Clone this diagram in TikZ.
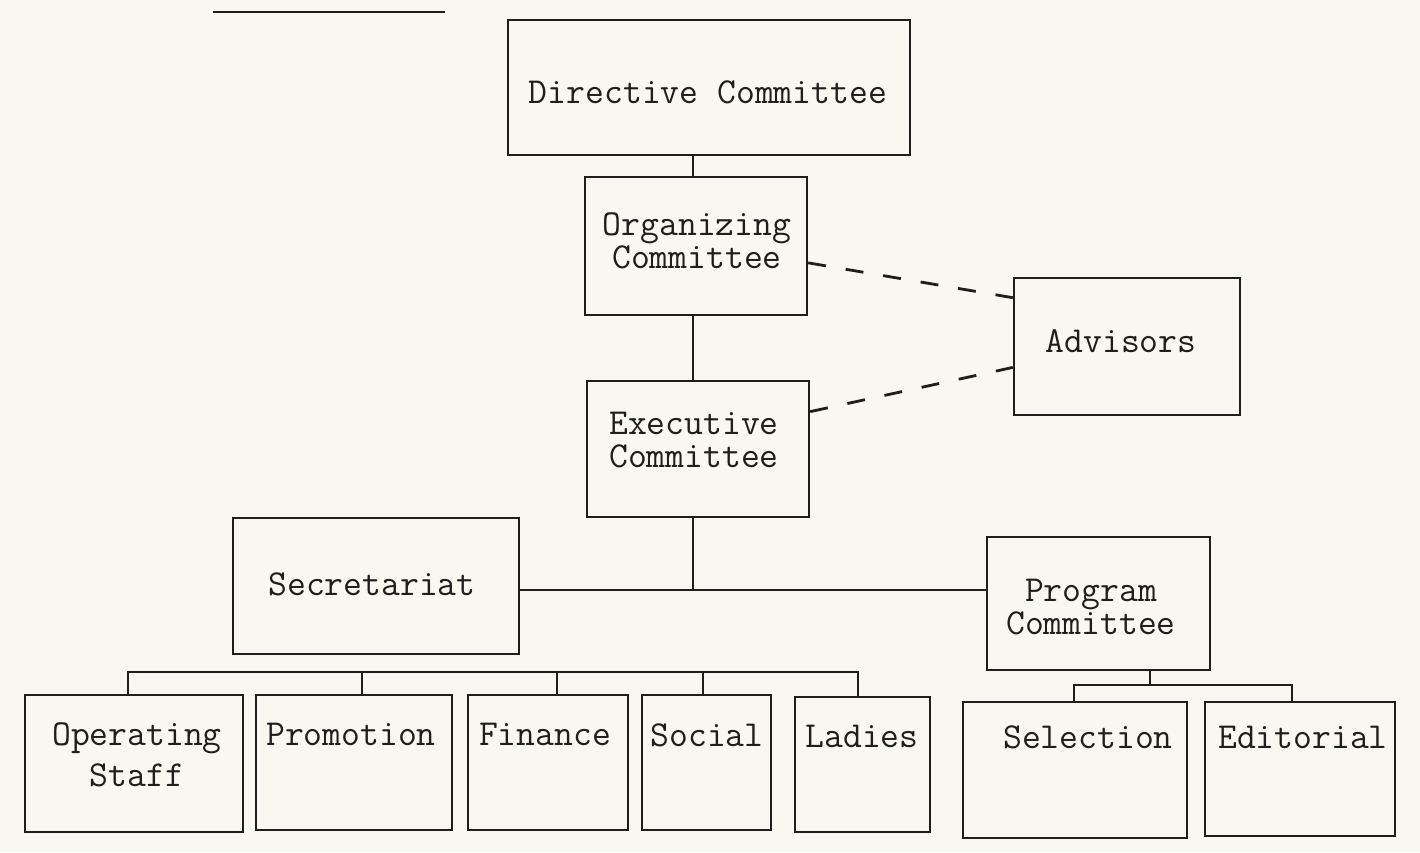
\documentclass[tikz,border=0pt]{standalone}
\usepackage{fontspec}
\usetikzlibrary{fit,calc}
\definecolor{paper}{RGB}{248,248,240}
\definecolor{ink}{RGB}{30,30,28}
\tikzset{
  box/.style={draw=ink, line width=1.2pt, inner sep=0pt, fill=none},
  txt/.style={font=\ttfamily\fontsize{18.3}{16.5}\selectfont, text=ink, inner sep=0pt, align=center},
  txtwide/.style={font=\ttfamily\fontsize{18.3}{20.5}\selectfont, text=ink, inner sep=0pt, align=center},
  link/.style={draw=ink, line width=1.1pt},
  dashlink/.style={draw=ink, line width=1.4pt, dash pattern=on 9pt off 10pt}
}
\begin{document}
\begin{tikzpicture}[x=0.5pt,y=-0.5pt]
\fill[paper] (0,0) rectangle (1420,852);
\useasboundingbox (0,0) rectangle (1420,852);
% fragment of cut-off heading underline
\draw[ink, line width=1.1pt] (213,12) -- (445,12);

% boxes
\node[box, fit={(508,20) (910,155)}] (dir) {};
\node[box, fit={(585,177) (807,315)}] (org) {};
\node[box, fit={(587,381) (809,517)}] (exe) {};
\node[box, fit={(1014,278) (1240,415)}] (adv) {};
\node[box, fit={(233,518) (519,654)}] (sec) {};
\node[box, fit={(987,537) (1210,670)}] (prog) {};
\node[box, fit={(25,695) (243,832)}] (ops) {};
\node[box, fit={(256,695) (452,830)}] (prom) {};
\node[box, fit={(468,695) (628,830)}] (fin) {};
\node[box, fit={(642,695) (771,830)}] (soc) {};
\node[box, fit={(795,697) (930,832)}] (lad) {};
\node[box, fit={(963,702) (1187,838)}] (sel) {};
\node[box, fit={(1205,702) (1395,836)}] (edi) {};

% texts
\node[txt] (tdir) at (708,92) {Directive Committee};
\node[txt] (torg) at (697,241) {Organizing\\Committee};
\node[txt] (tadv) at (1121,341) {Advisors};
\node[txt] (texe) at (694,440) {Executive\\Committee};
\node[txt] (tsec) at (372,584) {Secretariat};
\node[txt] (tprog) at (1091,607) {Program\\Committee};
\node[txtwide] (tops) at (137,755) {Operating\\Staff};
\node[txt] (tprom) at (351,734) {Promotion};
\node[txt] (tfin) at (545,734) {Finance};
\node[txt] (tsoc) at (707,735) {Social};
\node[txt] (tlad) at (862,736) {Ladies};
\node[txt] (tsel) at (1088,737) {Selection};
\node[txt] (tedi) at (1303,737) {Editorial};

% bus coordinates
\coordinate (vx) at (693,0);
\coordinate (bus) at (693,590);
\coordinate (sbus) at (0,672);
\coordinate (pb) at (1150,685);
\coordinate (d1) at (128,0);
\coordinate (d2) at (362,0);
\coordinate (d3) at (557,0);
\coordinate (d4) at (703,0);
\coordinate (d5) at (858,0);
\coordinate (e1) at (1074,0);
\coordinate (e2) at (1292,0);

% main spine
\draw[link] (dir.south -| vx) -- (org.north -| vx);
\draw[link] (org.south -| vx) -- (exe.north -| vx);
\draw[link] (exe.south -| vx) -- (bus);
\draw[link] (sec.east |- bus) -- (prog.west |- bus);

% secretariat sub-bus
\draw[link] (ops.north -| d1) -- (sbus -| d1) -- (sbus -| d5) -- (lad.north -| d5);
\draw[link] (prom.north -| d2) -- (sbus -| d2);
\draw[link] (fin.north -| d3) -- (sbus -| d3);
\draw[link] (soc.north -| d4) -- (sbus -| d4);

% program sub-bus
\draw[link] (prog.south -| pb) -- (pb);
\draw[link] (sel.north -| e1) -- (pb -| e1) -- (pb -| e2) -- (edi.north -| e2);

% advisors dashed links
\draw[dashlink] ($(org.north east)!0.62!(org.south east)$) -- ($(adv.north west)!0.15!(adv.south west)$);
\draw[dashlink] ($(exe.north east)!0.23!(exe.south east)$) -- ($(adv.north west)!0.65!(adv.south west)$);
\end{tikzpicture}
\end{document}
